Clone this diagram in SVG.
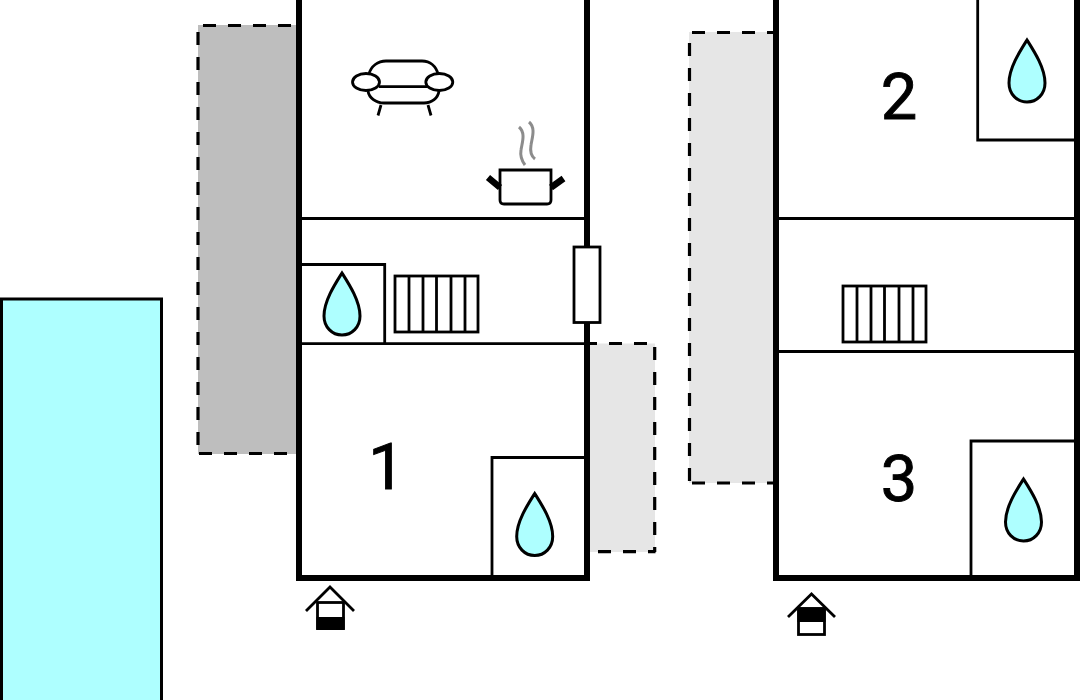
<svg xmlns="http://www.w3.org/2000/svg" width="1080" height="700" viewBox="0 0 1080 700">
<style>
.wall{fill:none;stroke:#000;stroke-width:6;stroke-linecap:butt;stroke-linejoin:miter}
.thin{fill:none;stroke:#000;stroke-width:2.800}
.dash{fill:none;stroke:#000;stroke-width:3.200;stroke-dasharray:13 12}
.drop{fill:#aeffff;stroke:#000;stroke-width:3;stroke-linejoin:miter}
.num{font-family:Roboto,"Liberation Sans",Arial,sans-serif;font-size:65px;fill:#000;stroke:#000;stroke-width:.9;text-anchor:middle}
.ic{fill:none;stroke:#000;stroke-width:2.800;stroke-linecap:butt}
</style>
<defs>
<path id="d" class="drop" d="M0 0C7 11 18 28 18 43C18 54 10 62 0 62C-10 62 -18 54 -18 43C-18 28 -7 11 0 0Z"/>
<g id="rad"><rect class="thin" x="0" y="0" width="83" height="56" fill="#fff"/><path class="thin" d="M14 0V56M28 0V56M41.500 0V56M56 0V56M70 0V56"/></g>
</defs>
<rect width="1080" height="700" fill="#fff"/>
<rect x="1.500" y="299" width="160" height="403" fill="#aeffff" stroke="#000" stroke-width="3"/>

<rect x="198" y="25" width="101" height="429" fill="#bebebe"/>
<path class="dash" d="M203 25.500H297"/>
<path class="dash" d="M198 32V454"/>
<path class="dash" d="M199 453.500H297"/>

<rect x="689" y="32" width="88" height="451" fill="#e6e6e6"/>
<path class="dash" d="M692 32.500H775"/>
<path class="dash" d="M689.500 43V483"/>
<path class="dash" d="M692 483H775"/>

<rect x="587" y="343.500" width="68" height="208.500" fill="#e6e6e6"/>
<path class="dash" d="M584 343.500H655.500"/>
<path class="dash" d="M654.700 347V552"/>
<path class="dash" d="M598 551.700H655.500"/>

<path class="thin" d="M299 218.500H587M299 343.700H587M299 264.500H384.700V343.700M492 578V457.500H587"/>
<path class="wall" d="M299 -5V578H587V-5"/>
<rect x="574" y="247" width="26" height="75.500" fill="#fff" stroke="#000" stroke-width="2.800"/>

<path class="thin" d="M776 218.500H1077M776 351.500H1077M977.700 -5V140H1077M971 578V441H1077"/>
<path class="wall" d="M776 -5V578H1077V-5"/>

<use href="#rad" x="395" y="276"/>
<use href="#rad" x="843" y="286"/>
<use href="#d" x="342" y="273"/>
<use href="#d" x="534.700" y="493.500"/>
<use href="#d" x="1027" y="40"/>
<use href="#d" x="1023.500" y="479"/>

<g id="sofa">
<path class="ic" d="M369 74C371 66 378 61 386 61H422C430 61 436 66 438 74M379 86.700H427M368 91C369 98 376 103 384 103H424C432 103 438 98 439 91M381 105L378 115.500M428 105L431 115.500"/>
<ellipse class="ic" cx="366" cy="82" rx="13.500" ry="8.500"/>
<ellipse class="ic" cx="439.300" cy="82" rx="13.500" ry="8.500"/>
</g>
<g id="pot">
<path class="ic" d="M500 170H551V200Q551 204 547 204H504Q500 204 500 200Z"/>
<path d="M488 177.500L500 187.500M563.500 178.500L551 187.500" fill="none" stroke="#000" stroke-width="6.500"/>
<path d="M519 127C526 133 522 143 521 150C520 156 522 161 525 165M529 122C536 128 532 138 531 145C530 151 531 156 535 159" fill="none" stroke="#8c8c8c" stroke-width="3"/>
</g>
<g id="entry1">
<path d="M306 611L330 587L354 611" fill="none" stroke="#000" stroke-width="2.800"/>
<rect x="317.500" y="602.500" width="26" height="26" fill="#fff" stroke="#000" stroke-width="2.800"/>
<rect x="316.500" y="617" width="28" height="13" fill="#000"/>
</g>
<g id="entry2">
<path d="M788 617L811.500 594L835 617" fill="none" stroke="#000" stroke-width="2.800"/>
<rect x="798.500" y="608.500" width="26" height="26" fill="#fff" stroke="#000" stroke-width="2.800"/>
<rect x="797.500" y="607.500" width="28" height="14.500" fill="#000"/>
</g>
<text class="num" x="386.500" y="488.500">1</text>
<text class="num" x="899" y="118.500">2</text>
<text class="num" x="899" y="500.500">3</text>
</svg>
